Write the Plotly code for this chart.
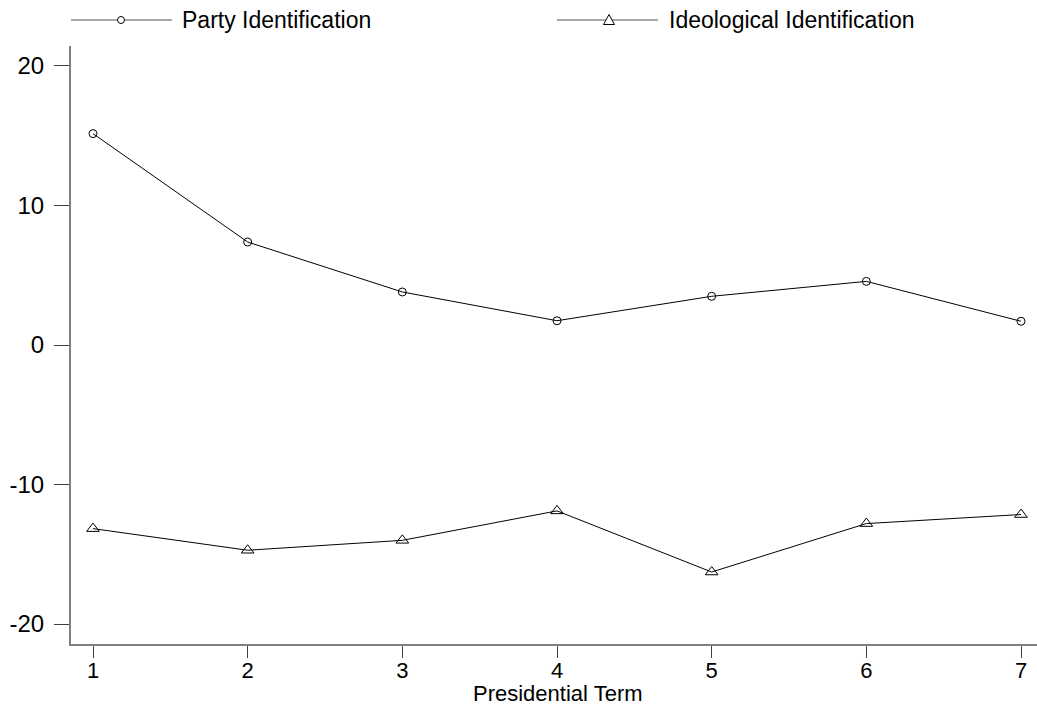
import plotly.graph_objects as go

terms = [1, 2, 3, 4, 5, 6, 7]
party_id = [15.15, 7.38, 3.80, 1.74, 3.49, 4.56, 1.70]
ideo_id = [-13.16, -14.71, -14.00, -11.89, -16.27, -12.80, -12.15]
y_ticks = [20, 10, 0, -10, -20]
y_ticktext = ["20", "10", "0", "-10", "-20"]
x_title = "Presidential Term"
names = ["Party Identification", "Ideological Identification"]

W, H = 1037, 710
L, R, T, B = 71, 0, 46, 66
pw, ph = W - L - R, H - T - B

def px(x):
    return (x - L) / pw

def py(y):
    return (H - B - y) / ph

FONT = "Liberation Sans, Arial, sans-serif"

fig = go.Figure()
fig.add_trace(go.Scatter(
    x=terms, y=party_id, mode="lines+markers", name=names[0],
    line=dict(color="black", width=1),
    marker=dict(symbol="circle-open", size=8, color="black", line=dict(width=1, color="black")),
    showlegend=False,
))
fig.add_trace(go.Scatter(
    x=terms, y=ideo_id, mode="lines+markers", name=names[1],
    line=dict(color="black", width=1),
    marker=dict(symbol="triangle-up-open", size=11, color="black", line=dict(width=1, color="black")),
    showlegend=False,
))

# manual legend (decoration)
shapes = []
annotations = []
legend_items = [
    (71, 172, 121, "circle", names[0], 180),
    (557, 658, 609, "triangle", names[1], 667),
]
ly = 20
for x0, x1, xm, sym, label, tx in legend_items:
    shapes.append(dict(type="line", xref="paper", yref="paper",
                       x0=px(x0), x1=px(x1), y0=py(ly), y1=py(ly),
                       line=dict(color="#555555", width=1)))
    if sym == "circle":
        r = 3.5
        shapes.append(dict(type="circle", xref="paper", yref="paper",
                           x0=px(xm - r), x1=px(xm + r), y0=py(ly + r), y1=py(ly - r),
                           line=dict(color="black", width=1), fillcolor="white"))
    else:
        pth = "M {} {} L {} {} L {} {} Z".format(
            px(xm - 5.5), py(ly + 4.5), px(xm + 5.5), py(ly + 4.5), px(xm), py(ly - 5.5))
        shapes.append(dict(type="path", xref="paper", yref="paper", path=pth,
                           line=dict(color="black", width=1), fillcolor="white"))
    annotations.append(dict(xref="paper", yref="paper", x=px(tx), y=py(ly),
                            xanchor="left", yanchor="middle", text=label, showarrow=False,
                            font=dict(family=FONT, size=23, color="black")))

# x-axis title as annotation for exact placement
annotations.append(dict(xref="paper", yref="paper", x=px(558), y=py(693),
                        xanchor="center", yanchor="middle", text=x_title, showarrow=False,
                        font=dict(family=FONT, size=22, color="black")))

fig.update_layout(
    width=W, height=H,
    margin=dict(l=L, r=R, t=T, b=B, pad=0),
    paper_bgcolor="white", plot_bgcolor="white",
    font=dict(family=FONT, size=22, color="black"),
    shapes=shapes, annotations=annotations,
    xaxis=dict(
        range=[1 - 22 / 154.67, 7 + 16 / 154.67],
        tickmode="array", tickvals=terms, ticktext=[str(t) for t in terms],
        ticks="outside", ticklen=12, tickwidth=1, tickcolor="#404040",
        showline=True, linecolor="#808080", linewidth=2,
        showgrid=False, zeroline=False,
        tickfont=dict(size=22, family=FONT, color="black"),
        ticklabelstandoff=-6,
    ),
    yaxis=dict(
        range=[-21.43, 21.43],
        tickmode="array", tickvals=y_ticks, ticktext=y_ticktext,
        ticks="outside", ticklen=15, tickwidth=1, tickcolor="#404040",
        showline=True, linecolor="#808080", linewidth=2,
        showgrid=False, zeroline=False,
        tickfont=dict(size=24, family=FONT, color="black"),
        ticklabelstandoff=5,
    ),
)

fig.write_html("out.html", config={"displayModeBar": False},
               post_script="document.body.style.margin='0';document.body.style.overflow='hidden';")
